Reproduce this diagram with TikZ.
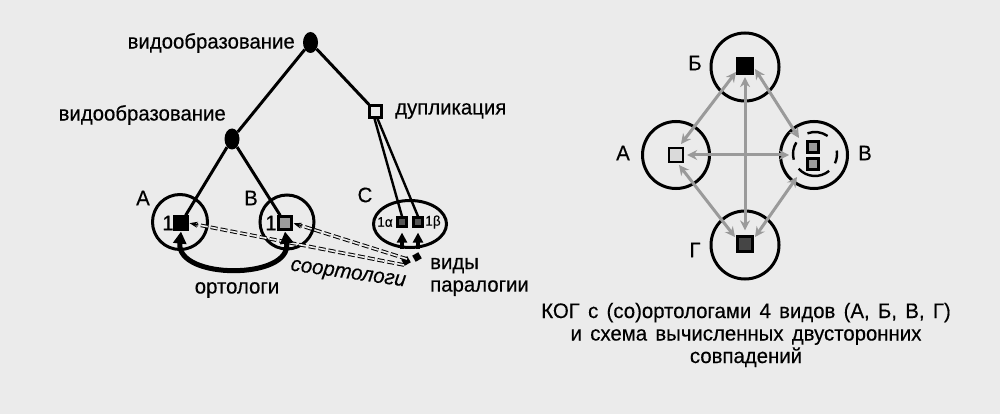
\documentclass[tikz,border=0pt]{standalone}
\usepackage{fontspec}
\setmainfont{Liberation Sans}[FakeStretch=0.97,FakeBold=0.35]
\usetikzlibrary{arrows.meta,calc,shapes.geometric}
\definecolor{bg}{HTML}{EBEBEB}
\definecolor{garrc}{HTML}{9A9A9A}
\definecolor{sqlight}{HTML}{DADADA}
\definecolor{sqmid}{HTML}{9C9C9C}
\definecolor{sqdark}{HTML}{555555}
\definecolor{sqdarker}{HTML}{454545}
\begin{document}
\begin{tikzpicture}[x=1pt,y=-1pt,
  lbl/.style={font=\fontsize{21}{22.5}\selectfont, inner sep=0pt},
  caplbl/.style={font={\fontsize{21}{22.5}\selectfont\spaceskip=8.3pt plus 1pt}, inner sep=0pt},
  sml/.style={font=\fontsize{14}{15}\selectfont, inner sep=0pt},
  sq/.style={draw, line width=2.2pt, minimum size=#1, inner sep=0pt},
  spec/.style={ellipse, fill=black, minimum width=15pt, minimum height=21pt, inner sep=0pt},
  orb/.style={circle, draw, line width=3pt, minimum size=#1, inner sep=0pt},
  tree/.style={line width=3pt},
  dbl/.style={dashed, dash pattern=on 7pt off 3pt, double=bg, double distance=1.6pt, line width=1pt},
  garr/.style={garrc, line width=3pt, {Stealth[length=10pt,width=10pt]}-{Stealth[length=10pt,width=10pt]}},
  dasharc/.style={line width=2.4pt}
]
\fill[bg] (0,0) rectangle (1000,414);
\useasboundingbox (0,0) rectangle (1000,414);

% ---------- left tree ----------
\node[spec] (s1) at (310.5,42.5) {};
\node[spec] (s2) at (232,139) {};
\node[sq=12pt, fill=bg] (dup) at (375.5,111.5) {};

\node[lbl, anchor=east] (l1) at (295,43) {видообразование};
\node[lbl, anchor=east] (l2) at (226,115) {видообразование};
\node[lbl, anchor=west] (l3) at (395,111) {дупликация};

% organism circles
\node[orb=55pt] (cA) at (180,222) {};
\node[orb=54pt] (cB) at (287,222) {};
\node[ellipse, draw, line width=3pt, minimum width=73pt, minimum height=47pt, inner sep=0pt] (cC) at (410,224) {};

\node[lbl] (tA) at (143,198) {A};
\node[lbl] (tB) at (251,198) {B};
\node[lbl] (tC) at (365,195) {C};

% genes
\node[sq=13pt, fill=black] (gA) at (181,223) {};
\node[sq=13pt, fill=sqmid] (gB) at (285,223) {};
\node[sq=9pt, fill=sqdark] (ga) at (402,222) {};
\node[sq=9pt, fill=sqdark] (gb) at (418,222) {};

\node[lbl] (n1A) at (168,223) {1};
\node[lbl] (n1B) at (271,223) {1};
\node[sml] (n1a) at (385,222) {1α};
\node[sml] (n1b) at (433,222) {1β};

% tree edges
\draw[tree] (s1) -- (s2);
\draw[tree] (s1) -- (dup);
\draw[tree] (s2) -- (gA);
\draw[tree] (s2) -- (gB);
\draw[tree, line width=2.4pt] (dup.south) ++(-1,0) coordinate (d1) (d1) -- (ga.north);
\draw[tree, line width=2.4pt] (dup.south) ++(2,0) coordinate (d2) (d2) -- (gb.north);

% paralogy marker
\node[fill=black, rotate=30, minimum size=7pt, inner sep=0pt] (pm1) at (406,261) {};
\node[fill=black, rotate=30, minimum size=7pt, inner sep=0pt] (pm2) at (417,257) {};
\coordinate (pA) at (404,265);
\coordinate (pB) at (407,259);

% in-paralog arrows in C
\coordinate (fa) at (402,249);
\coordinate (fb) at (418,249);
\coordinate (ta) at ($(ga.south)+(0,5)$);
\coordinate (tb) at ($(gb.south)+(0,5)$);
\draw[line width=3.2pt, -{Triangle[length=10pt,width=10pt]}] (fa) -- (ta);
\draw[line width=3.2pt, -{Triangle[length=10pt,width=10pt]}] (fb) -- (tb);

% co-ortholog double dashed arrows
\draw[dbl] (pA) -- ($(gA.east)!8pt!(pA)$);
\draw[line width=1pt, -{Stealth[length=8pt,width=6pt]}] ($(gA.east)!10pt!(pA)$) -- ($(gA.east)!1pt!(pA)$);
\draw[dbl] (pB) -- ($(gB.east)!8pt!(pB)$);
\draw[line width=1pt, -{Stealth[length=8pt,width=6pt]}] ($(gB.east)!10pt!(pB)$) -- ($(gB.east)!1pt!(pB)$);

% ortholog arrow
\draw[line width=5pt, {Triangle[length=12pt,width=13pt]}-{Triangle[length=12pt,width=13pt]}]
  ($(gA.south)+(0,1)$) .. controls (176,280) and (292,280) .. ($(gB.south)+(0,1)$);

\node[lbl] (lort) at (237,290) {ортологи};
\node[lbl, rotate=-8] (lco) at (348,275) {\itshape соортологи};
\node[lbl, anchor=west, align=left] (lpar) at (430,277) {виды\\паралогии};

% ---------- right scheme ----------
\node[orb=68pt] (oB) at (745,67) {};
\node[orb=67pt] (oA) at (676,155) {};
\node[orb=67pt] (oV) at (814,155) {};
\node[orb=68pt] (oG) at (745,245) {};

\node[lbl] (tRB) at (695,63) {Б};
\node[lbl] (tRA) at (623,153) {А};
\node[lbl] (tRV) at (865,153) {В};
\node[lbl] (tRG) at (695,250) {Г};

\node[sq=16pt, fill=black] (qB) at (745,66) {};
\node[sq=14pt, fill=sqlight] (qA) at (676,155) {};
\node[sq=11pt, fill=sqmid] (qV1) at (813,147) {};
\node[sq=11pt, fill=sqmid] (qV2) at (813,164) {};
\node[sq=15pt, fill=sqdarker] (qG) at (745,244) {};

% dashed ring round the V paralogs
\coordinate (vc) at (815,154);
\draw[dasharc] ($(vc)+(-55:22)$) arc (-55:-110:22);
\draw[dasharc] ($(vc)+(-148:22)$) arc (-148:-195:22);
\draw[dasharc] ($(vc)+(-222:22)$) arc (-222:-310:22);
\draw[dasharc] ($(vc)+(25:22)$) arc (25:-9:22);

\coordinate (vBt) at (799,138);
\coordinate (vAt) at (789,155);
\coordinate (vGt) at (797,177);
\coordinate (aBt) at (681,144);
\coordinate (aGt) at (679,165);
\coordinate (bAt) at (736,72);
\coordinate (bVt) at (755,69);
\coordinate (gAt) at (735,237);
\coordinate (gVt) at (755,237);

\draw[garr] (bAt) -- (aBt);
\draw[garr] (bVt) -- (vBt);
\draw[garr, shorten <=2pt, shorten >=5pt] (qB.south) -- (qG.north);
\draw[garr, shorten <=3pt] (qA.east) -- (vAt);
\draw[garr] (aGt) -- (gAt);
\draw[garr] (vGt) -- (gVt);

\node[caplbl, align=center] (cap) at (746,335) {КОГ с (со)ортологами 4 видов (А, Б, В, Г)\\и схема вычисленных двусторонних\\совпадений};
\end{tikzpicture}
\end{document}
